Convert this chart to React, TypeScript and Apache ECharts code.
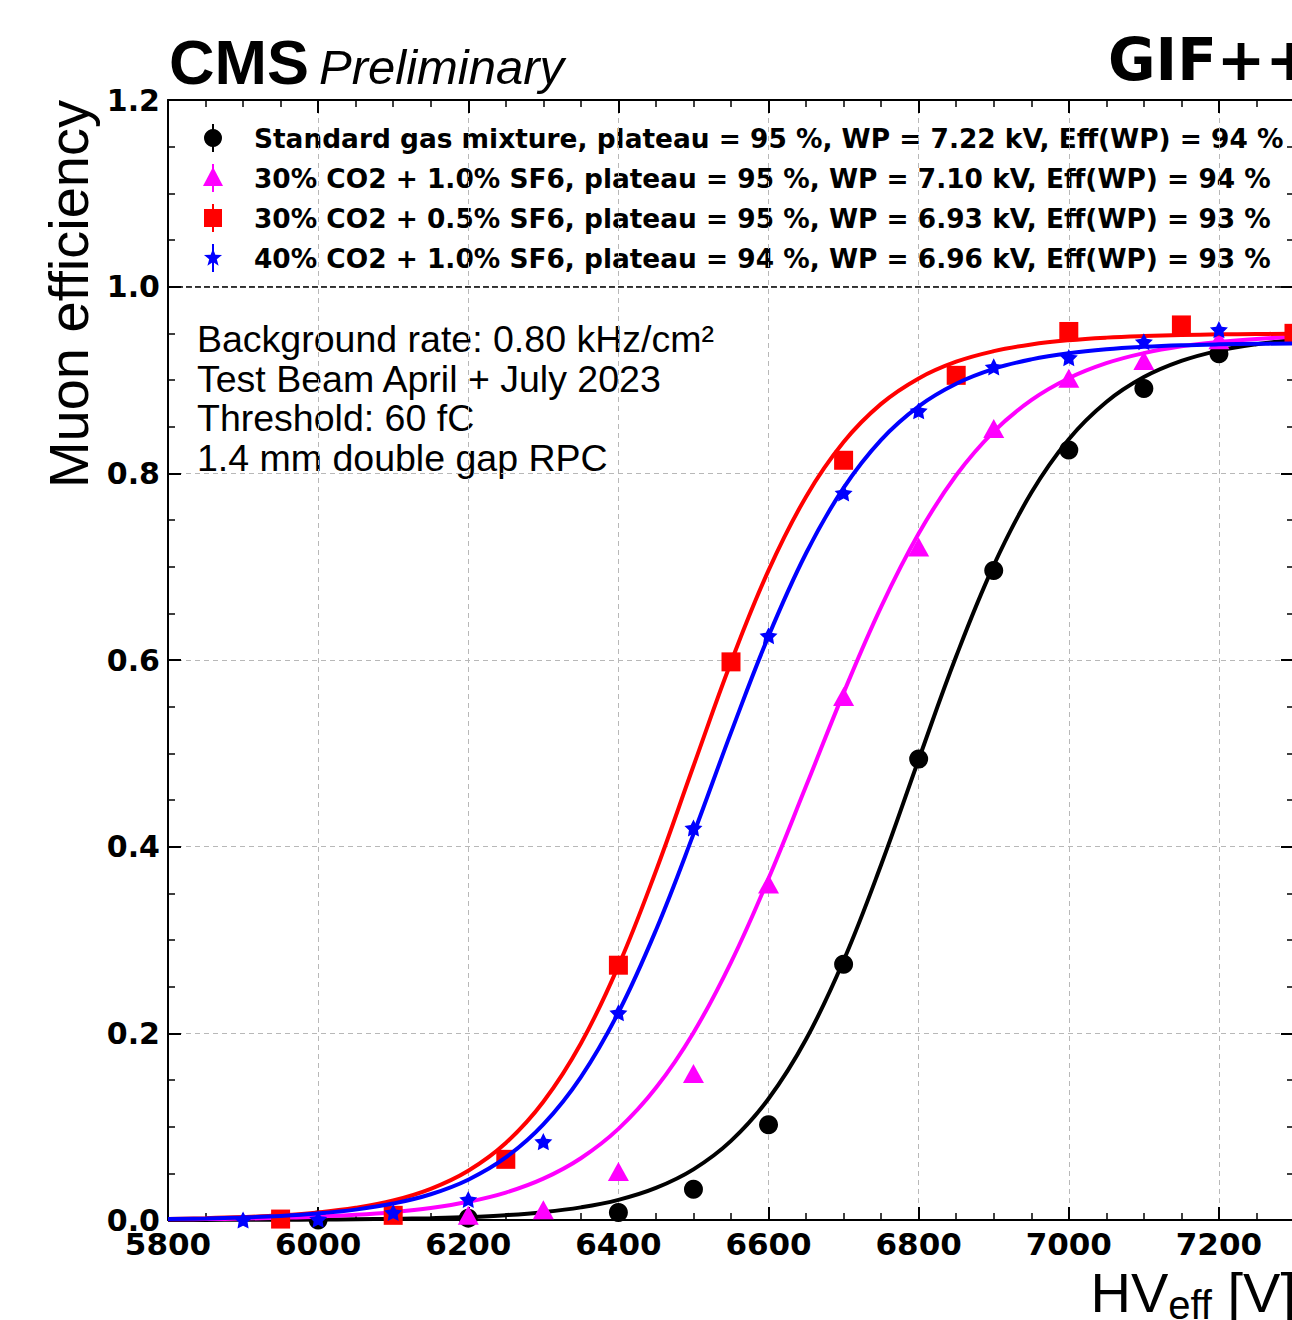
import React, { useEffect, useRef } from "react";
import * as echarts from "echarts";

// ---- data ----
const curveHV = [5800, 5850, 5900, 5950, 6000, 6050, 6100, 6150, 6200, 6250, 6300, 6350, 6400, 6450, 6500, 6550, 6600, 6650, 6700, 6750, 6800, 6850, 6900, 6950, 7000, 7050, 7100, 7150, 7200, 7250, 7300];
const curveStd = [0.0001, 0.0001, 0.0002, 0.0003, 0.0005, 0.0008, 0.0012, 0.002, 0.0032, 0.0052, 0.0084, 0.0135, 0.0216, 0.0344, 0.0543, 0.0848, 0.1299, 0.1936, 0.278, 0.3806, 0.4933, 0.604, 0.7014, 0.7791, 0.8365, 0.8764, 0.9031, 0.9204, 0.9315, 0.9384, 0.9428];
const curveMag = [0.0007, 0.001, 0.0015, 0.0024, 0.0036, 0.0055, 0.0084, 0.0128, 0.0195, 0.0294, 0.0443, 0.0662, 0.0976, 0.1416, 0.2007, 0.2761, 0.3659, 0.4649, 0.5648, 0.657, 0.7355, 0.7979, 0.8447, 0.8784, 0.9019, 0.918, 0.9288, 0.9361, 0.9408, 0.944, 0.9461];
const curveRed = [0.0012, 0.0019, 0.0031, 0.005, 0.0081, 0.0131, 0.0209, 0.0334, 0.0528, 0.0825, 0.1267, 0.1891, 0.2723, 0.374, 0.4864, 0.5975, 0.696, 0.775, 0.8335, 0.8744, 0.9017, 0.9196, 0.9309, 0.9381, 0.9426, 0.9454, 0.9471, 0.9482, 0.9489, 0.9493, 0.9496];
const curveBlue = [0.0011, 0.0017, 0.0028, 0.0044, 0.007, 0.0111, 0.0176, 0.0276, 0.0432, 0.067, 0.1024, 0.1531, 0.2223, 0.3105, 0.4134, 0.5222, 0.6256, 0.7144, 0.7844, 0.8359, 0.8718, 0.896, 0.9119, 0.9221, 0.9287, 0.9329, 0.9355, 0.9372, 0.9382, 0.9388, 0.9392];

const stdHV = [6000, 6200, 6400, 6500, 6600, 6700, 6800, 6900, 7000, 7100, 7200];
const stdEff = [0.0, 0.002, 0.008, 0.033, 0.102, 0.274, 0.494, 0.696, 0.825, 0.891, 0.928];
const magHV = [6200, 6300, 6400, 6500, 6600, 6700, 6800, 6900, 7000, 7100, 7200];
const magEff = [0.005, 0.011, 0.052, 0.157, 0.36, 0.561, 0.721, 0.848, 0.902, 0.921, 0.943];
const redHV = [5950, 6100, 6250, 6400, 6550, 6700, 6850, 7000, 7150, 7300];
const redEff = [0.001, 0.005, 0.065, 0.273, 0.598, 0.814, 0.905, 0.952, 0.959, 0.95];
const blueHV = [5900, 6000, 6100, 6200, 6300, 6400, 6500, 6600, 6700, 6800, 6900, 7000, 7100, 7200];
const blueEff = [0.0, 0.001, 0.008, 0.022, 0.084, 0.222, 0.42, 0.626, 0.779, 0.867, 0.914, 0.924, 0.941, 0.954];

const legendLabels = [
  "Standard gas mixture, plateau = 95 %, WP = 7.22 kV, Eff(WP) = 94 %",
  "30% CO2 + 1.0% SF6, plateau = 95 %, WP = 7.10 kV, Eff(WP) = 94 %",
  "30% CO2 + 0.5% SF6, plateau = 95 %, WP = 6.93 kV, Eff(WP) = 93 %",
  "40% CO2 + 1.0% SF6, plateau = 94 %, WP = 6.96 kV, Eff(WP) = 93 %",
];
const infoLines = [
  "Background rate: 0.80 kHz/cm²",
  "Test Beam April + July 2023",
  "Threshold: 60 fC",
  "1.4 mm double gap RPC",
];

const X_MIN = 5800;
const X_MAX = 7300;
const Y_MIN = 0;
const Y_MAX = 1.2;

const COLORS = ["#000000", "#ff00ff", "#ff0000", "#0000ff"];
const STAR = "path://M0,-10L2.94,-4.05L9.51,-3.09L4.76,1.55L5.88,8.09L0,5L-5.88,8.09L-4.76,1.55L-9.51,-3.09L-2.94,-4.05Z";

const zip = (xs: number[], ys: number[]) => xs.map((x, i) => [x, ys[i]]);

function starPoints(cx: number, cy: number, R: number) {
  const pts: number[][] = [];
  for (let i = 0; i < 10; i++) {
    const r = i % 2 === 0 ? R : R * 0.42;
    const a = -Math.PI / 2 + (i * Math.PI) / 5;
    pts.push([cx + r * Math.cos(a), cy + r * Math.sin(a)]);
  }
  return pts;
}

export default function App() {
  const ref = useRef<HTMLDivElement>(null);
  useEffect(() => {
    if (!ref.current) return;
    const chart = echarts.init(ref.current, null, { renderer: "svg" });

    const tickFont = { fontFamily: "DejaVu Sans", fontWeight: "bold" as const, fontSize: 31, color: "#000" };
    const axisCommon = {
      type: "value" as const,
      axisLine: { show: true, onZero: false, lineStyle: { color: "#000", width: 2 } },
      axisTick: { show: true, inside: true, length: 13, lineStyle: { color: "#000", width: 2 } },
      minorTick: { show: true, splitNumber: 4, length: 7, lineStyle: { color: "#000", width: 1.5 } },
    };
    const gridLine = { show: true, lineStyle: { color: "#b8b8b8", width: 1, type: [5, 4] as number[] } };

    const lineSeries = (data: number[], color: string, z: number) => ({
      type: "line" as const,
      data: zip(curveHV, data),
      showSymbol: false,
      smooth: 0.4,
      lineStyle: { color, width: 4 },
      z,
      silent: true,
      clip: true,
    });
    const scatterSeries = (xs: number[], ys: number[], color: string, symbol: string, size: any, z: number) => ({
      type: "scatter" as const,
      data: zip(xs, ys),
      symbol,
      symbolSize: size,
      symbolKeepAspect: true,
      itemStyle: { color, opacity: 1 },
      z,
      clip: true,
    });

    const legendMarkers: any[] = [];
    const rowY = [138, 178, 218, 258];
    rowY.forEach((cy, i) => {
      legendMarkers.push({
        type: "line",
        shape: { x1: 213, y1: cy - 14, x2: 213, y2: cy + 14 },
        style: { stroke: COLORS[i], lineWidth: 2 },
      });
      if (i === 0) legendMarkers.push({ type: "circle", shape: { cx: 213, cy, r: 9 }, style: { fill: COLORS[i] } });
      if (i === 1) legendMarkers.push({ type: "polygon", shape: { points: [[213, cy - 11], [203, cy + 8], [223, cy + 8]] }, style: { fill: COLORS[i] } });
      if (i === 2) legendMarkers.push({ type: "rect", shape: { x: 204, y: cy - 9, width: 18, height: 18 }, style: { fill: COLORS[i] } });
      if (i === 3) legendMarkers.push({ type: "polygon", shape: { points: starPoints(213, cy, 9.5) }, style: { fill: COLORS[i] } });
      legendMarkers.push({
        type: "text",
        x: 254,
        y: cy,
        style: { text: legendLabels[i], fontFamily: "DejaVu Sans", fontWeight: "bold", fontSize: 26.4, fill: "#000", verticalAlign: "middle", align: "left" },
      });
    });

    const infoTexts = infoLines.map((t, i) => ({
      type: "text",
      x: 197,
      y: [339, 379, 418, 458][i],
      style: { text: t, fontFamily: "Liberation Sans", fontSize: 37.5, fill: "#000", verticalAlign: "middle", align: "left" },
    }));

    chart.setOption({
      animation: false,
      backgroundColor: "#ffffff",
      grid: { left: 168, right: 1400 - 1294, top: 100, bottom: 100, containLabel: false },
      xAxis: [
        {
          ...axisCommon,
          position: "bottom",
          min: X_MIN,
          max: X_MAX,
          interval: 200,
          axisLabel: { ...tickFont, margin: 8, showMaxLabel: false, formatter: (v: number) => String(Math.round(v)) },
          splitLine: gridLine,
        },
        {
          ...axisCommon,
          position: "top",
          min: X_MIN,
          max: X_MAX,
          interval: 200,
          axisLabel: { show: false },
          splitLine: { show: false },
        },
      ],
      yAxis: [
        {
          ...axisCommon,
          position: "left",
          min: Y_MIN,
          max: Y_MAX,
          interval: 0.2,
          axisLabel: { ...tickFont, fontSize: 30, margin: 8, formatter: (v: number) => v.toFixed(1) },
          splitLine: gridLine,
        },
        {
          ...axisCommon,
          position: "right",
          min: Y_MIN,
          max: Y_MAX,
          interval: 0.2,
          axisLabel: { show: false },
          splitLine: { show: false },
        },
      ],
      series: [
        {
          ...lineSeries(curveStd, COLORS[0], 2),
          markLine: {
            silent: true,
            symbol: ["none", "none"],
            label: { show: false },
            lineStyle: { color: "#000", width: 1.5, type: [6, 3] },
            data: [{ yAxis: 1.0 }],
          },
        },
        scatterSeries(stdHV, stdEff, COLORS[0], "circle", 19, 3),
        lineSeries(curveMag, COLORS[1], 4),
        scatterSeries(magHV, magEff, COLORS[1], "triangle", [21, 19], 5),
        lineSeries(curveRed, COLORS[2], 6),
        scatterSeries(redHV, redEff, COLORS[2], "rect", 19, 7),
        lineSeries(curveBlue, COLORS[3], 8),
        scatterSeries(blueHV, blueEff, COLORS[3], STAR, 18, 9),
      ],
      graphic: [
        {
          type: "text",
          x: 169,
          y: 62,
          style: { text: "CMS", fontFamily: "Liberation Sans", fontWeight: "bold", fontSize: 63, fill: "#000", verticalAlign: "middle", align: "left" },
        },
        {
          type: "text",
          x: 319,
          y: 67,
          style: { text: "Preliminary", fontFamily: "Liberation Sans", fontStyle: "italic", fontSize: 49, fill: "#000", verticalAlign: "middle", align: "left" },
        },
        {
          type: "text",
          x: 1108,
          y: 60,
          style: { text: "GIF++", fontFamily: "DejaVu Sans", fontWeight: "bold", fontSize: 58, fill: "#000", verticalAlign: "middle", align: "left" },
        },
        {
          type: "text",
          x: 68,
          y: 100,
          rotation: Math.PI / 2,
          style: { text: "Muon efficiency", fontFamily: "Liberation Sans", fontSize: 56, fill: "#000", verticalAlign: "middle", align: "right" },
        },
        {
          type: "text",
          x: 1296,
          y: 1292,
          style: {
            text: "{a|HV}{b|eff}{a| [V]}",
            align: "right",
            verticalAlign: "middle",
            fill: "#000",
            rich: {
              a: { fontFamily: "Liberation Sans", fontSize: 56, fill: "#000" },
              b: { fontFamily: "Liberation Sans", fontSize: 40, fill: "#000", padding: [26, 0, 0, 0] },
            },
          },
        },
        ...infoTexts,
        ...legendMarkers,
      ],
    });
    return () => chart.dispose();
  }, []);

  return (
    <div style={{ position: "absolute", left: 0, top: 0, width: 1292, height: 1320, overflow: "hidden", background: "#fff" }}>
      <div ref={ref} style={{ width: 1400, height: 1320 }} />
    </div>
  );
}
